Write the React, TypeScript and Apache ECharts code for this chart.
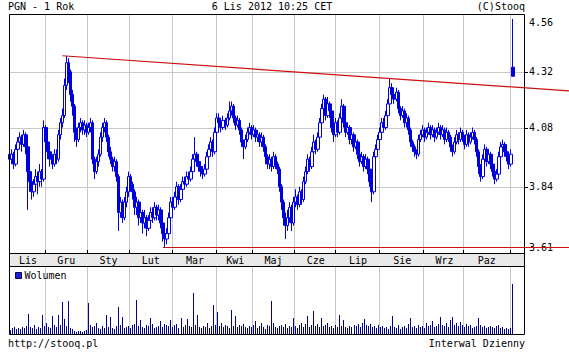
import React, { useEffect, useRef } from 'react';
import * as echarts from 'echarts';

const MONO = '"DejaVu Sans Mono", "Liberation Mono", monospace';

// Months shown on the axis (Nov 2011 .. Nov 2012) and trading days in each
const monthNames = ['Lis', 'Gru', 'Sty', 'Lut', 'Mar', 'Kwi', 'Maj', 'Cze', 'Lip', 'Sie', 'Wrz', 'Paz', 'Lis'];
const tradingDaysPerMonth = [18, 21, 21, 21, 22, 18, 21, 20, 22, 22, 20, 23, 2];
const emptySlots = 5;

// Daily closes (PLN)
const closes = [
  3.95, 3.97, 3.93, 3.99, 4.02, 4.04, 4.01, 4.05, 4.00, 3.90,
  3.86, 3.82, 3.85, 3.88, 3.86, 3.90, 3.87, 4.08, 4.02, 3.98,
  3.95, 3.93, 3.97, 3.95, 4.05, 4.10, 4.13, 4.26, 4.36, 4.32,
  4.22, 4.17, 4.06, 4.03, 4.08, 4.10, 4.07, 4.09, 4.06, 4.08,
  4.10, 3.95, 3.90, 3.94, 3.97, 4.04, 4.08, 4.10, 4.04, 3.98,
  3.95, 3.92, 3.94, 3.88, 3.74, 3.78, 3.72, 3.78, 3.82, 3.88,
  3.85, 3.82, 3.76, 3.78, 3.72, 3.74, 3.70, 3.72, 3.68, 3.71,
  3.74, 3.72, 3.76, 3.73, 3.75, 3.70, 3.66, 3.64, 3.66, 3.72,
  3.78, 3.76, 3.80, 3.84, 3.79, 3.83, 3.86, 3.85, 3.88, 3.87,
  3.90, 3.95, 3.97, 3.94, 3.92, 3.90, 3.89, 3.91, 3.96, 3.99,
  4.02, 3.98, 4.06, 4.12, 4.10, 4.08, 4.11, 4.09, 4.12, 4.15,
  4.17, 4.12, 4.09, 4.11, 4.07, 4.02, 4.00, 4.03, 4.06, 4.08,
  4.05, 4.07, 4.04, 4.05, 4.02, 4.04, 4.00, 3.96, 3.93, 3.95,
  3.92, 3.96, 3.93, 3.91, 3.84, 3.78, 3.72, 3.69, 3.72, 3.76,
  3.70, 3.78, 3.80, 3.77, 3.82, 3.79, 3.86, 3.90, 3.95, 3.92,
  3.98, 4.02, 3.99, 4.04, 4.10, 4.16, 4.20, 4.13, 4.18, 4.15,
  4.08, 4.05, 4.10, 4.06, 4.12, 4.17, 4.10, 4.06, 4.08, 4.03,
  4.05, 4.00, 4.02, 3.97, 3.94, 3.96, 3.92, 3.95, 3.91, 3.86,
  3.82, 3.96, 3.99, 4.03, 4.06, 4.10, 4.08, 4.13, 4.18, 4.25,
  4.22, 4.20, 4.23, 4.16, 4.13, 4.15, 4.10, 4.12, 4.07, 4.02,
  4.00, 3.98, 3.97, 4.03, 4.05, 4.07, 4.04, 4.06, 4.08, 4.05,
  4.07, 4.04, 4.06, 4.08, 4.05, 4.07, 4.03, 4.06, 4.04, 4.00,
  3.98, 4.02, 4.05, 4.03, 4.06, 4.04, 4.01, 4.05, 4.02, 4.04,
  4.06, 4.03, 3.98, 3.92, 3.88, 3.95, 3.99, 3.94, 3.97, 3.93,
  3.90, 3.87, 3.89, 3.96, 4.00, 4.01, 3.98, 3.96, 3.93, 3.97,
  4.30,
];

// Daily highs
const highs = [
  3.99, 3.99, 3.98, 4.01, 4.04, 4.06, 4.05, 4.07, 4.06, 4.01,
  3.92, 3.88, 3.87, 3.91, 3.90, 3.93, 3.91, 4.11, 4.09, 4.03,
  3.99, 3.97, 3.99, 3.99, 4.07, 4.12, 4.16, 4.29, 4.39, 4.38,
  4.33, 4.24, 4.18, 4.08, 4.10, 4.12, 4.11, 4.11, 4.10, 4.10,
  4.12, 4.11, 3.96, 3.96, 3.99, 4.06, 4.10, 4.12, 4.11, 4.05,
  4.00, 3.96, 3.96, 3.95, 3.89, 3.80, 3.79, 3.80, 3.84, 3.90,
  3.89, 3.86, 3.83, 3.80, 3.79, 3.77, 3.75, 3.75, 3.73, 3.73,
  3.76, 3.76, 3.78, 3.77, 3.77, 3.76, 3.71, 3.67, 3.68, 3.74,
  3.80, 3.80, 3.82, 3.86, 3.85, 3.85, 3.88, 3.88, 3.90, 3.90,
  3.92, 3.97, 4.04, 3.98, 3.95, 3.93, 3.92, 3.93, 3.98, 4.01,
  4.04, 4.03, 4.08, 4.14, 4.14, 4.11, 4.13, 4.12, 4.14, 4.19,
  4.19, 4.18, 4.13, 4.13, 4.12, 4.08, 4.03, 4.05, 4.08, 4.10,
  4.09, 4.09, 4.08, 4.07, 4.06, 4.06, 4.05, 4.01, 3.97, 3.97,
  3.96, 3.98, 3.97, 3.94, 3.92, 3.85, 3.79, 3.74, 3.75, 3.78,
  3.77, 3.80, 3.83, 3.81, 3.84, 3.83, 3.88, 3.92, 3.97, 3.96,
  4.00, 4.05, 4.03, 4.06, 4.12, 4.18, 4.22, 4.21, 4.21, 4.19,
  4.16, 4.09, 4.12, 4.11, 4.14, 4.20, 4.18, 4.11, 4.10, 4.09,
  4.07, 4.06, 4.04, 4.03, 3.98, 3.98, 3.97, 3.97, 3.96, 3.92,
  3.87, 3.98, 4.01, 4.05, 4.08, 4.12, 4.12, 4.15, 4.20, 4.29,
  4.27, 4.24, 4.25, 4.24, 4.17, 4.17, 4.16, 4.14, 4.13, 4.08,
  4.03, 4.01, 3.99, 4.05, 4.07, 4.09, 4.08, 4.08, 4.10, 4.09,
  4.09, 4.08, 4.08, 4.10, 4.09, 4.09, 4.08, 4.08, 4.07, 4.05,
  4.01, 4.04, 4.07, 4.06, 4.08, 4.07, 4.05, 4.07, 4.06, 4.06,
  4.08, 4.07, 4.04, 3.99, 3.93, 3.97, 4.01, 4.00, 3.99, 3.98,
  3.94, 3.91, 3.91, 3.98, 4.02, 4.03, 4.02, 3.99, 3.97, 3.99,
  4.56,
];

// Daily lows
const lows = [
  3.91, 3.93, 3.91, 3.92, 3.97, 4.00, 3.98, 4.00, 3.97, 3.75,
  3.82, 3.79, 3.80, 3.83, 3.81, 3.84, 3.84, 3.86, 3.99, 3.95,
  3.92, 3.91, 3.92, 3.93, 3.94, 4.03, 4.08, 4.12, 4.24, 4.27,
  4.19, 4.13, 4.02, 4.00, 4.02, 4.06, 4.05, 4.05, 4.04, 4.05,
  4.06, 3.93, 3.87, 3.89, 3.92, 3.96, 4.02, 4.06, 4.02, 3.96,
  3.93, 3.90, 3.90, 3.86, 3.67, 3.72, 3.70, 3.71, 3.76, 3.80,
  3.82, 3.79, 3.73, 3.73, 3.69, 3.70, 3.66, 3.68, 3.65, 3.67,
  3.70, 3.70, 3.71, 3.71, 3.71, 3.68, 3.63, 3.61, 3.62, 3.65,
  3.71, 3.73, 3.75, 3.79, 3.77, 3.78, 3.82, 3.83, 3.84, 3.85,
  3.86, 3.89, 3.94, 3.92, 3.90, 3.88, 3.87, 3.88, 3.90, 3.95,
  3.97, 3.96, 3.97, 4.05, 4.08, 4.06, 4.07, 4.07, 4.08, 4.11,
  4.13, 4.10, 4.07, 4.08, 4.05, 4.00, 3.95, 3.99, 4.02, 4.05,
  4.03, 4.04, 4.02, 4.02, 4.00, 4.00, 3.98, 3.93, 3.91, 3.91,
  3.90, 3.91, 3.91, 3.89, 3.82, 3.75, 3.69, 3.64, 3.67, 3.70,
  3.67, 3.69, 3.76, 3.75, 3.76, 3.77, 3.78, 3.85, 3.89, 3.90,
  3.91, 3.97, 3.97, 3.98, 4.03, 4.09, 4.14, 4.11, 4.12, 4.12,
  4.06, 4.02, 4.04, 4.04, 4.05, 4.11, 4.08, 4.04, 4.05, 4.01,
  4.01, 3.98, 3.99, 3.95, 3.92, 3.93, 3.90, 3.91, 3.89, 3.84,
  3.78, 3.81, 3.94, 3.98, 4.01, 4.05, 4.06, 4.07, 4.12, 4.17,
  4.20, 4.18, 4.19, 4.14, 4.11, 4.12, 4.08, 4.08, 4.05, 4.00,
  3.98, 3.96, 3.95, 3.96, 4.02, 4.04, 4.02, 4.03, 4.05, 4.03,
  4.04, 4.02, 4.03, 4.05, 4.03, 4.04, 4.01, 4.02, 4.02, 3.98,
  3.96, 3.97, 4.01, 4.01, 4.02, 4.02, 3.99, 4.00, 4.00, 4.01,
  4.03, 4.01, 3.96, 3.89, 3.86, 3.87, 3.94, 3.92, 3.93, 3.91,
  3.88, 3.85, 3.86, 3.88, 3.95, 3.98, 3.96, 3.94, 3.91, 3.92,
  4.30,
];

// Opens that differ from the previous close (gaps)
const gapOpens: Record<number, number> = { 0: 3.97, 250: 4.34 };

// Daily volume (relative units)
const volumes = [
  4, 6, 7, 5, 6, 5, 7, 6, 8, 20,
  7, 6, 9, 5, 7, 6, 19, 8, 11, 7,
  6, 18, 9, 7, 19, 9, 32, 15, 8, 33,
  6, 5, 3, 2, 3, 3, 2, 3, 4, 31,
  9, 7, 8, 11, 6, 5, 8, 6, 19, 7,
  17, 6, 5, 8, 27, 9, 17, 6, 7, 8,
  6, 9, 10, 34, 8, 14, 7, 6, 9, 8,
  16, 10, 6, 7, 8, 13, 7, 10, 9, 8,
  14, 7, 9, 10, 6, 16, 7, 9, 15, 8,
  7, 41, 9, 19, 7, 6, 8, 7, 11, 6,
  8, 29, 9, 22, 8, 11, 7, 9, 8, 6,
  24, 8, 18, 7, 9, 8, 10, 7, 6, 8,
  7, 9, 13, 6, 8, 11, 7, 5, 9, 8,
  33, 11, 7, 6, 8, 9, 7, 10, 6, 8,
  7, 16, 8, 6, 9, 11, 7, 10, 18, 7,
  9, 23, 8, 10, 7, 16, 8, 9, 11, 7,
  8, 6, 9, 7, 19, 8, 14, 7, 6, 8,
  7, 9, 8, 10, 7, 11, 15, 9, 8, 10,
  7, 8, 6, 9, 7, 8, 6, 7, 5, 8,
  18, 7, 6, 9, 5, 7, 8, 6, 10, 16,
  7, 8, 6, 9, 7, 8, 6, 11, 8, 9,
  13, 7, 8, 10, 17, 9, 8, 11, 7, 14,
  17, 9, 11, 8, 12, 9, 7, 10, 8, 9,
  6, 7, 8, 16, 9, 7, 8, 6, 7, 8,
  7, 6, 8, 9, 6, 7, 5, 6, 5, 6,
  50,
];
const volumeAxisMax = 68;

// Price axis (log) range, grid levels, edge labels
const priceMin = 3.588;
const priceMax = 4.583;
const gridLevels = [4.32, 4.08, 3.84];
const edgeLabels = [4.56, 3.61];

// Trend lines
const resistanceAnchors = [
  { idx: 28, value: 4.39 },
  { idx: 189, value: 4.29 },
];
const resistanceStartIdx = 26;
const support = { startIdx: 76, value: 3.61 };

// Texts
const titleLeft = 'PGN - 1 Rok';
const titleCenter = '6 Lis 2012 10:25 CET';
const titleRight = '(C)Stooq';
const footerLeft = 'http://stooq.pl';
const footerRight = 'Interwal Dzienny';
const volumeLegend = 'Wolumen';

// ---- derived tables ----
const categories: string[] = [];
const monthStarts = new Set<number>();
const labelIdx = new Set<number>();
{
  let c = 0;
  tradingDaysPerMonth.forEach((len, m) => {
    if (m > 0) monthStarts.add(c);
    if (len >= 10) labelIdx.add(c + Math.floor(len / 2));
    for (let d = 0; d < len; d++) categories.push(`${monthNames[m]}|${m}|${d}`);
    c += len;
  });
  for (let k = 0; k < emptySlots; k++) categories.push(`|x|${k}`);
}

const candleData = closes.map((c, i) => {
  const o = gapOpens[i] !== undefined ? gapOpens[i] : closes[i - 1];
  const h = Math.max(highs[i], o, c);
  const l = Math.min(lows[i], o, c);
  return [o, c, l, h];
});
const volumeData = volumes.map((v, i) => [i, v]);

const BLUE = '#0000dd';
const VOL_BLUE = '#00008c';
const GRID_GREY = '#c8c8c8';
const RED = '#cc1111';

const L = 9, R = 524, PT = 14, PB = 253, VT = 266, VB = 334, W = 569;

export default function App() {
  const ref = useRef<HTMLDivElement>(null);
  useEffect(() => {
    if (!ref.current) return;
    const chart = echarts.init(ref.current, null, { renderer: 'svg', width: 569, height: 355 });
    const monthSplit = (i: number) => monthStarts.has(i);
    chart.setOption({
      animation: false,
      backgroundColor: '#ffffff',
      textStyle: { fontFamily: MONO },
      grid: [
        { left: L, top: PT, width: R - L, height: PB - PT, show: false },
        { left: L, top: VT, width: R - L, height: VB - VT, show: false },
      ],
      xAxis: [
        {
          type: 'category',
          gridIndex: 0,
          data: categories,
          boundaryGap: true,
          axisLine: { show: false },
          axisTick: { show: true, inside: true, length: 3, interval: monthSplit, lineStyle: { color: '#000' } },
          axisLabel: {
            show: true,
            interval: (i: number) => labelIdx.has(i),
            formatter: (v: string) => v.split('|')[0],
            margin: 2,
            fontSize: 10,
            fontFamily: MONO,
            color: '#000',
          },
          splitLine: { show: true, interval: monthSplit, lineStyle: { color: GRID_GREY, width: 1 } },
        },
        {
          type: 'category',
          gridIndex: 1,
          data: categories,
          boundaryGap: true,
          axisLine: { show: false },
          axisTick: { show: false },
          axisLabel: { show: false },
          splitLine: { show: true, interval: monthSplit, lineStyle: { color: GRID_GREY, width: 1 } },
        },
      ],
      yAxis: [
        {
          type: 'log',
          logBase: 10,
          gridIndex: 0,
          position: 'right',
          min: priceMin,
          max: priceMax,
          axisLine: { show: false },
          axisTick: { show: false },
          axisLabel: { show: false },
          splitLine: { show: false },
        },
        {
          type: 'value',
          gridIndex: 1,
          min: 0,
          max: volumeAxisMax,
          axisLine: { show: false },
          axisTick: { show: false },
          axisLabel: { show: false },
          splitLine: { show: false },
        },
      ],
      series: [
        {
          type: 'candlestick',
          xAxisIndex: 0,
          yAxisIndex: 0,
          data: candleData,
          barWidth: 3,
          z: 3,
          itemStyle: {
            color: '#ffffff',
            color0: BLUE,
            borderColor: BLUE,
            borderColor0: BLUE,
            borderWidth: 1,
          },
        },
        {
          type: 'custom',
          xAxisIndex: 1,
          yAxisIndex: 1,
          data: volumeData,
          z: 3,
          encode: { x: 0, y: 1 },
          renderItem: (params: any, api: any) => {
            const top = api.coord([api.value(0), api.value(1)]);
            const base = api.coord([api.value(0), 0]);
            const x = Math.round(top[0] - 0.5);
            const y = Math.round(top[1]);
            return {
              type: 'rect',
              shape: { x, y, width: 1, height: Math.round(base[1]) - y },
              style: { fill: VOL_BLUE },
            };
          },
        },
      ],
    });

    const py = (v: number) => chart.convertToPixel({ yAxisIndex: 0 }, v) as number;
    const pxi = (i: number) => chart.convertToPixel({ xAxisIndex: 0 }, i) as number;
    const crisp = (v: number) => Math.round(v) + 0.5;

    const els: any[] = [];
    // label strip
    els.push({
      type: 'rect', z: -1, silent: true,
      shape: { x: L + 0.5, y: PB + 0.5, width: R - L, height: VT - PB },
      style: { fill: '#e9e9e9', stroke: '#000', lineWidth: 1 },
    });
    // horizontal grid lines + right ticks
    gridLevels.forEach((v) => {
      const y = crisp(py(v));
      els.push({
        type: 'line', z: 1, silent: true,
        shape: { x1: L, y1: y, x2: R, y2: y },
        style: { stroke: GRID_GREY, lineWidth: 1 },
      });
      els.push({
        type: 'line', z: 10, silent: true,
        shape: { x1: R, y1: y, x2: R + 4, y2: y },
        style: { stroke: '#000', lineWidth: 1 },
      });
    });
    // y labels (kept inside the plot's vertical span)
    [...edgeLabels, ...gridLevels].forEach((v) => {
      const y = Math.min(Math.max(py(v), PT + 8), PB - 6);
      els.push({
        type: 'text', z: 10, silent: true,
        style: {
          text: v.toFixed(2), x: R + 5, y,
          fontSize: 10, fontFamily: MONO, fill: '#000',
          textAlign: 'left', textVerticalAlign: 'middle',
        },
      });
    });
    // frames
    els.push({
      type: 'rect', z: 10, silent: true,
      shape: { x: L + 0.5, y: PT + 0.5, width: R - L, height: PB - PT },
      style: { fill: 'none', stroke: '#000', lineWidth: 1 },
    });
    els.push({
      type: 'rect', z: 10, silent: true,
      shape: { x: L + 0.5, y: VT + 0.5, width: R - L, height: VB - VT },
      style: { fill: 'none', stroke: '#000', lineWidth: 1 },
    });
    // resistance trend line
    {
      const [a, b] = resistanceAnchors;
      const ax = pxi(a.idx), ay = py(a.value);
      const bx = pxi(b.idx), by = py(b.value);
      const slope = (by - ay) / (bx - ax);
      const sx = pxi(resistanceStartIdx);
      els.push({
        type: 'line', z: 12, silent: true,
        shape: { x1: sx, y1: ay + slope * (sx - ax), x2: W, y2: ay + slope * (W - ax) },
        style: { stroke: RED, lineWidth: 1.2 },
      });
    }
    // support line
    {
      const y = crisp(py(support.value));
      els.push({
        type: 'line', z: 12, silent: true,
        shape: { x1: pxi(support.startIdx), y1: y, x2: W, y2: y },
        style: { stroke: RED, lineWidth: 1.2 },
      });
    }
    // header & footer
    const txt = (text: string, x: number, y: number, align: string) => ({
      type: 'text', z: 10, silent: true,
      style: { text, x, y, fontSize: 10, fontFamily: MONO, fill: '#000', textAlign: align, textVerticalAlign: 'middle' },
    });
    els.push(txt(titleLeft, 8, 6.5, 'left'));
    els.push(txt(titleCenter, 272, 6.5, 'center'));
    els.push(txt(titleRight, R + 1, 6.5, 'right'));
    els.push(txt(footerLeft, 8, 343, 'left'));
    els.push(txt(footerRight, R + 1, 343, 'right'));
    // volume legend
    els.push({
      type: 'rect', z: 10, silent: true,
      shape: { x: 15.5, y: 272.5, width: 6, height: 6 },
      style: { fill: '#2222cc', stroke: '#000066', lineWidth: 1 },
    });
    els.push(txt(volumeLegend, 24.5, 275.5, 'left'));

    chart.setOption({ graphic: { elements: els } });
    return () => chart.dispose();
  }, []);
  return <div ref={ref} style={{ position: 'absolute', left: 0, top: 0, width: 569, height: 355 }} />;
}
